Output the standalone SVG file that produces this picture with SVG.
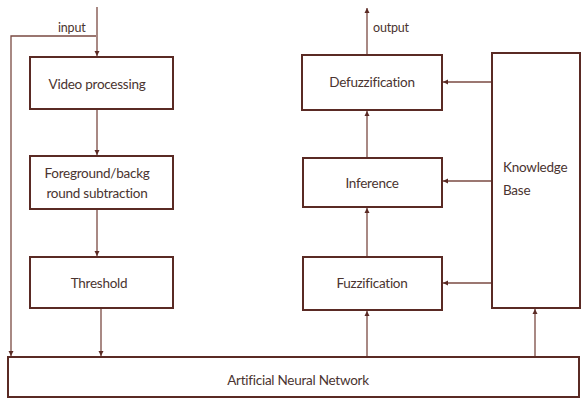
<svg xmlns="http://www.w3.org/2000/svg" width="582" height="401" viewBox="0 0 582 401">
<style>
.box{fill:#fff;stroke:#5a2a24;stroke-width:2}
.lbl{font-family:Lato,"Open Sans",sans-serif;font-size:13.5px;fill:#4a3430;text-anchor:middle;letter-spacing:-0.25px}
.sm{font-family:Lato,"Open Sans",sans-serif;font-size:12.5px;fill:#4a3430;letter-spacing:-0.2px}
.ln{fill:none;stroke:#7a4a42;stroke-width:1.3}
</style>
<defs>
<marker id="ah" markerWidth="6" markerHeight="6" refX="5" refY="3" orient="auto" markerUnits="userSpaceOnUse">
<path d="M0,0.5 L5,3 L0,5.5 Z" fill="#5a2a24"/>
</marker>
</defs>
<rect width="582" height="401" fill="#fff"/>
<g id="connectors">
<path class="ln" d="M97,7 V56" marker-end="url(#ah)"/>
<path class="ln" d="M96,36 H11 V356" marker-end="url(#ah)"/>
<path class="ln" d="M97,110 V155" marker-end="url(#ah)"/>
<path class="ln" d="M97,210 V256" marker-end="url(#ah)"/>
<path class="ln" d="M101,309 V356" marker-end="url(#ah)"/>
<path class="ln" d="M367,357 V311" marker-end="url(#ah)"/>
<path class="ln" d="M367,257 V208" marker-end="url(#ah)"/>
<path class="ln" d="M367,158 V111" marker-end="url(#ah)"/>
<path class="ln" d="M367,54 V8" marker-end="url(#ah)"/>
<path class="ln" d="M491,82 H443" marker-end="url(#ah)"/>
<path class="ln" d="M491,181 H443" marker-end="url(#ah)"/>
<path class="ln" d="M491,283 H443" marker-end="url(#ah)"/>
<path class="ln" d="M535,357 V309" marker-end="url(#ah)"/>
<text class="sm" x="58" y="32">input</text>
<text class="sm" x="373" y="32">output</text>
</g>
<g id="video">
<rect class="box" x="30" y="57" width="143" height="52"/>
<text class="lbl" x="97" y="89">Video processing</text>
</g>
<g id="foreground">
<rect class="box" x="30" y="156" width="143" height="53"/>
<text class="lbl" x="97" y="178">Foreground/backg</text>
<text class="lbl" x="97" y="198">round subtraction</text>
</g>
<g id="threshold">
<rect class="box" x="30" y="257" width="143" height="51"/>
<text class="lbl" x="99" y="288">Threshold</text>
</g>
<g id="defuzzification">
<rect class="box" x="302" y="55" width="140" height="55"/>
<text class="lbl" x="372" y="87">Defuzzification</text>
</g>
<g id="inference">
<rect class="box" x="303" y="158" width="139" height="49"/>
<text class="lbl" x="372" y="188">Inference</text>
</g>
<g id="fuzzification">
<rect class="box" x="303" y="257" width="139" height="53"/>
<text class="lbl" x="372" y="288">Fuzzification</text>
</g>
<g id="knowledge">
<rect class="box" x="492" y="53" width="88" height="255"/>
<text class="lbl" x="503" y="172" style="text-anchor:start">Knowledge</text>
<text class="lbl" x="503" y="195" style="text-anchor:start">Base</text>
</g>
<g id="ann">
<rect class="box" x="8" y="357" width="571" height="40"/>
<text class="lbl" x="298" y="385">Artificial Neural Network</text>
</g>
</svg>
